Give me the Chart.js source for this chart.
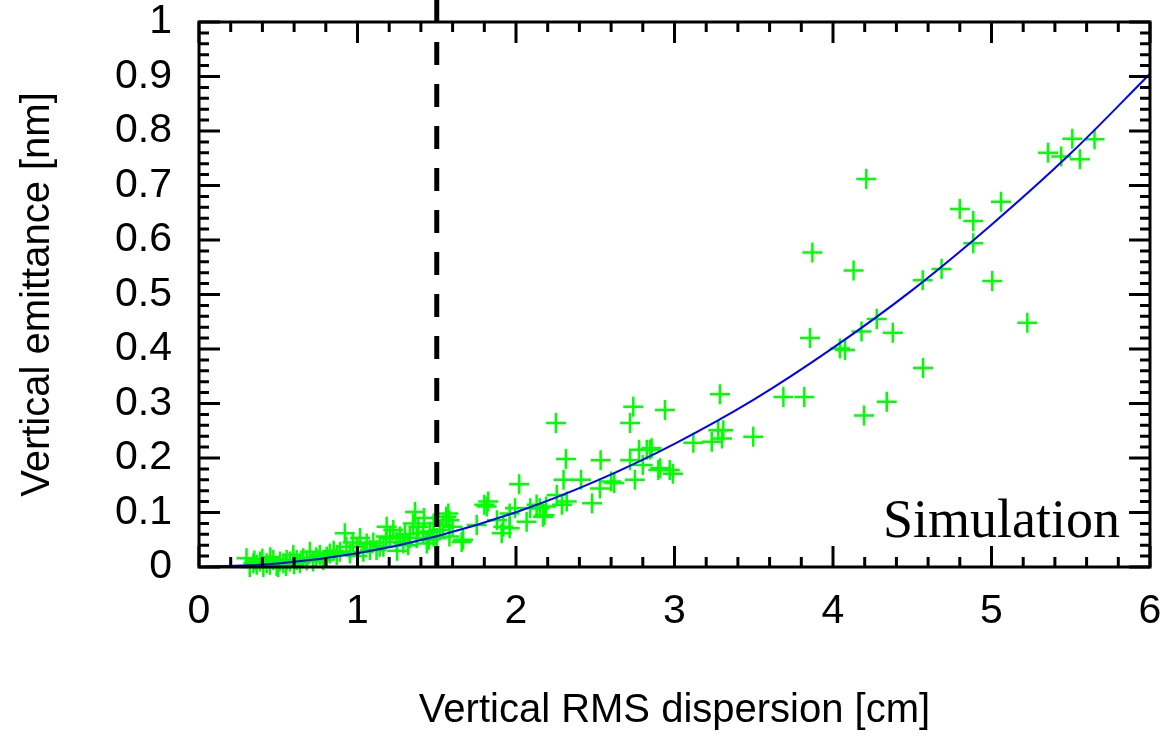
<!DOCTYPE html>
<html>
<head>
<meta charset="utf-8">
<script src="https://cdn.jsdelivr.net/npm/chart.js@4.4.0/dist/chart.umd.min.js"></script>
<style>
  html, body { margin: 0; padding: 0; background: #fff; }
  #wrap { width: 1175px; height: 738px; }
</style>
</head>
<body>
<div id="wrap"><canvas id="chart" width="1175" height="738"></canvas></div>
<script>
// Simulated seeds: vertical RMS dispersion [cm] vs vertical emittance [nm]
const dispersion = [
  0.30, 0.32, 0.343, 0.35, 0.364, 0.385, 0.40, 0.406, 0.427, 0.448, 0.45, 0.469, 0.49, 0.50,
  0.511, 0.532, 0.55, 0.553, 0.574, 0.595, 0.60, 0.616, 0.637, 0.658, 0.68, 0.70, 0.72, 0.74,
  0.763, 0.784, 0.806, 0.826, 0.85, 0.869, 0.89, 0.92, 0.93, 0.953, 0.97, 0.995, 1.00, 1.016,
  1.037, 1.058, 1.079, 1.10, 1.12, 1.14, 1.163, 1.18, 1.184, 1.205, 1.226, 1.247, 1.25, 1.268,
  1.289, 1.30, 1.32, 1.33, 1.35, 1.363, 1.373, 1.384, 1.415, 1.42, 1.437, 1.45, 1.457, 1.48,
  1.48, 1.50, 1.52, 1.54, 1.56, 1.573, 1.58, 1.58, 1.60, 1.657, 1.666,
  1.752, 1.80, 1.815, 1.825, 1.88, 1.91, 1.92, 1.96, 1.96, 1.994, 2.02, 2.067, 2.09, 2.13,
  2.15, 2.17, 2.18, 2.19, 2.252, 2.257, 2.29, 2.30, 2.315, 2.32, 2.41, 2.48, 2.53, 2.534,
  2.60, 2.62, 2.72, 2.72, 2.74, 2.75, 2.776, 2.80, 2.825, 2.845, 2.856, 2.898, 2.91, 2.94,
  2.97, 2.99,
  3.119, 3.235, 3.276, 3.287, 3.30, 3.308, 3.497, 3.687, 3.819, 3.855, 3.87, 4.044, 4.076,
  4.13, 4.18, 4.196, 4.21, 4.276, 4.339, 4.377, 4.566, 4.568, 4.685, 4.80, 4.885, 4.885,
  5.005, 5.06, 5.226, 5.357, 5.44, 5.51, 5.558, 5.65
];
const emittance = [
  0.016, 0.000, 0.007, 0.012, 0.004, 0.010, 0.015, 0.000, 0.007, 0.004, 0.018, 0.013, 0.002, 0.000,
  0.010, 0.007, 0.002, 0.013, 0.010, 0.022, 0.005, 0.013, 0.007, 0.016, 0.012, 0.028, 0.010, 0.018,
  0.022, 0.013, 0.019, 0.025, 0.030, 0.022, 0.028, 0.062, 0.037, 0.025, 0.045, 0.037, 0.020, 0.053,
  0.028, 0.043, 0.031, 0.045, 0.031, 0.037, 0.037, 0.056, 0.074, 0.053, 0.068, 0.046, 0.030, 0.056,
  0.043, 0.060, 0.040, 0.053, 0.080, 0.101, 0.053, 0.074, 0.062, 0.090, 0.043, 0.050, 0.065, 0.080,
  0.056, 0.053, 0.068, 0.077, 0.092, 0.098, 0.056, 0.086, 0.074, 0.046, 0.050,
  0.077, 0.114, 0.111, 0.120, 0.086, 0.062, 0.074, 0.098, 0.071, 0.108, 0.152, 0.083, 0.108, 0.114,
  0.108, 0.092, 0.095, 0.111, 0.264, 0.132, 0.114, 0.160, 0.198, 0.120, 0.160, 0.117, 0.144, 0.196,
  0.157, 0.154, 0.264, 0.196, 0.294, 0.160, 0.215, 0.187, 0.215, 0.215, 0.218, 0.178, 0.181, 0.288,
  0.178, 0.171,
  0.228, 0.230, 0.251, 0.317, 0.236, 0.251, 0.239, 0.312, 0.312, 0.420, 0.577, 0.401, 0.398,
  0.544, 0.432, 0.278, 0.712, 0.455, 0.303, 0.430, 0.526, 0.365, 0.547, 0.657, 0.635, 0.594,
  0.525, 0.670, 0.448, 0.760, 0.753, 0.786, 0.748, 0.785
];

// Quadratic fit
const fitX = [0, 0.5, 1, 1.5, 2, 2.5, 3, 3.5, 4, 4.5, 5, 5.5, 6];
const fitY = [0, 0.0063, 0.0251, 0.0565, 0.1004, 0.157, 0.226, 0.307, 0.402, 0.508, 0.628, 0.759, 0.905];

const xTicks = [0, 1, 2, 3, 4, 5, 6];
const xTickLabels = ['0', '1', '2', '3', '4', '5', '6'];
const yTicks = [0, 0.1, 0.2, 0.3, 0.4, 0.5, 0.6, 0.7, 0.8, 0.9, 1];
const yTickLabels = ['0', '0.1', '0.2', '0.3', '0.4', '0.5', '0.6', '0.7', '0.8', '0.9', '1'];

const cutX = 1.5;            // dashed threshold line
const panelLabel = 'Simulation';
const xTitle = 'Vertical RMS dispersion [cm]';
const yTitle = 'Vertical emittance [nm]';

const sansFont = '"Liberation Sans", Arial, sans-serif';

// frame, inward ticks, dashed cut and panel label (drawn on top of data)
const framePlugin = {
  id: 'frame',
  afterDatasetsDraw(chart) {
    const { ctx, chartArea: a, scales: { x, y } } = chart;
    ctx.save();

    const dx = x.getPixelForValue(cutX);
    ctx.strokeStyle = '#000';
    ctx.lineWidth = 5;
    ctx.setLineDash([23, 19]);
    ctx.beginPath();
    ctx.moveTo(dx, 0);
    ctx.lineTo(dx, a.bottom);
    ctx.stroke();
    ctx.setLineDash([]);

    ctx.lineWidth = 3;
    ctx.strokeRect(a.left, a.top, a.right - a.left, a.bottom - a.top);

    ctx.beginPath();
    for (let i = 0; i <= 30; i++) {
      const px = x.getPixelForValue(i * 0.2);
      const len = i % 5 === 0 ? 21 : 10;
      ctx.moveTo(px, a.bottom); ctx.lineTo(px, a.bottom - len);
      ctx.moveTo(px, a.top); ctx.lineTo(px, a.top + len);
    }
    for (let i = 0; i <= 50; i++) {
      const py = y.getPixelForValue(i * 0.02);
      const len = i % 5 === 0 ? 21 : 10;
      ctx.moveTo(a.left, py); ctx.lineTo(a.left + len, py);
      ctx.moveTo(a.right, py); ctx.lineTo(a.right - len, py);
    }
    ctx.stroke();

    ctx.fillStyle = '#000';
    ctx.font = '54px "Liberation Serif", "Times New Roman", serif';
    ctx.textAlign = 'right';
    ctx.textBaseline = 'alphabetic';
    ctx.fillText(panelLabel, a.right - 30, a.bottom - 30);
    ctx.restore();
  }
};

new Chart(document.getElementById('chart'), {
  data: {
    datasets: [
      {
        type: 'line',
        data: fitX.map((v, i) => ({ x: v, y: fitY[i] })),
        borderColor: '#0000ff',
        borderWidth: 2,
        pointRadius: 0,
        cubicInterpolationMode: 'monotone',
        order: 0
      },
      {
        type: 'scatter',
        data: dispersion.map((v, i) => ({ x: v, y: emittance[i] })),
        pointStyle: 'cross',
        pointRadius: 10,
        borderColor: '#00ff00',
        backgroundColor: '#00ff00',
        borderWidth: 2.5,
        clip: false,
        order: 1
      }
    ]
  },
  options: {
    responsive: false,
    animation: false,
    layout: { padding: { top: 22, right: 25, left: 0, bottom: 0 } },
    plugins: { legend: { display: false }, tooltip: { enabled: false } },
    scales: {
      x: {
        type: 'linear',
        min: 0, max: 6,
        afterBuildTicks: (s) => { s.ticks = xTicks.map(v => ({ value: v })); },
        afterFit: (s) => { s.height = 171; s.paddingLeft = 0; s.paddingRight = 0; },
        grid: { display: false, drawTicks: false },
        border: { display: false },
        ticks: {
          padding: 20,
          color: '#000',
          font: { family: sansFont, size: 41 },
          maxRotation: 0,
          callback: (v, i) => xTickLabels[i]
        },
        title: {
          display: true,
          text: xTitle,
          color: '#000',
          font: { family: sansFont, size: 40 },
          padding: { top: 0, bottom: 3 }
        }
      },
      y: {
        type: 'linear',
        min: 0, max: 1,
        afterBuildTicks: (s) => { s.ticks = yTicks.map(v => ({ value: v })); },
        afterFit: (s) => { s.width = 199; s.paddingTop = 0; s.paddingBottom = 0; },
        grid: { display: false, drawTicks: false },
        border: { display: false },
        ticks: {
          padding: 27,
          color: '#000',
          font: { family: sansFont, size: 41 },
          callback: (v, i) => yTickLabels[i]
        },
        title: {
          display: true,
          text: yTitle,
          color: '#000',
          font: { family: sansFont, size: 40 },
          padding: { top: 14, bottom: 0 }
        }
      }
    }
  },
  plugins: [framePlugin]
});
</script>
</body>
</html>
